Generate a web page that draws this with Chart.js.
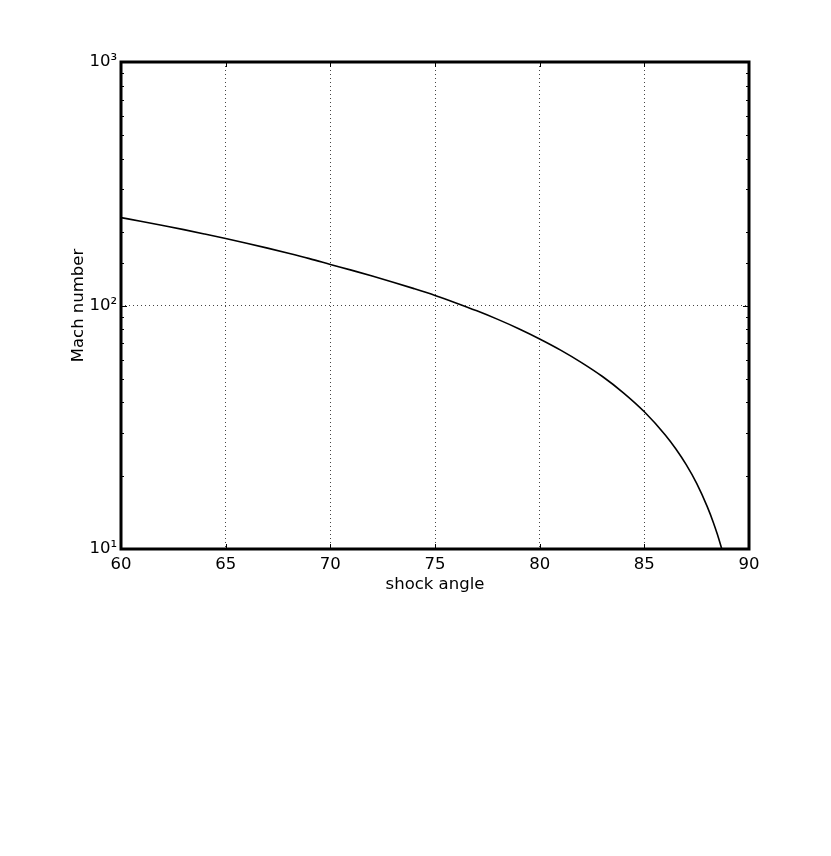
<!DOCTYPE html>
<html>
<head>
<meta charset="utf-8">
<script src="https://cdn.jsdelivr.net/npm/chart.js@4.4.1/dist/chart.umd.min.js"></script>
<style>
html,body{margin:0;padding:0;background:#fff;}
#wrap{width:831px;height:856px;}
</style>
</head>
<body>
<div id="wrap"><canvas id="c" width="831" height="856"></canvas></div>
<script>
// Data
const shockAngle = [60, 61, 62, 63, 64, 65, 66, 67, 68, 69, 70, 71, 72, 73, 74, 75, 76, 77, 78, 79, 80,
                    81, 82, 83, 84, 85, 86, 86.5, 87, 87.5, 88, 88.3, 88.5, 88.7];
const machNumber = [229.6, 221.3, 213.0, 204.9, 196.6, 188.4, 180.2, 172.0, 163.9, 155.8, 147.5, 139.7,
                    132.2, 124.7, 117.3, 110.0, 102.5, 95.1, 87.7, 80.3, 72.9, 65.6, 58.3, 51.1, 43.8,
                    36.6, 29.4, 25.8, 22.2, 18.6, 14.96, 12.83, 11.41, 10.0];
const xTicks = [60, 65, 70, 75, 80, 85, 90];
const yTickLabels = {10: '10\u00B9', 100: '10\u00B2', 1000: '10\u00B3'};

const FONT = "'DejaVu Sans', 'Bitstream Vera Sans', sans-serif";
const FSIZE = 16.5;

const points = shockAngle.map((x, i) => ({x: x, y: machNumber[i]}));

const framePlugin = {
  id: 'frame',
  afterDraw(chart) {
    const {ctx, chartArea: a, scales} = chart;
    ctx.save();
    ctx.strokeStyle = '#000';
    ctx.lineWidth = 1;
    scales.y.ticks.forEach(t => {
      const p = Math.round(scales.y.getPixelForValue(t.value)) + 0.5;
      const isMajor = yTickLabels[t.value] !== undefined;
      const len = isMajor ? 6 : 3;
      ctx.beginPath();
      ctx.moveTo(a.left, p); ctx.lineTo(a.left + len, p);
      ctx.moveTo(a.right, p); ctx.lineTo(a.right - len, p);
      ctx.stroke();
    });
    scales.x.ticks.forEach(t => {
      const p = Math.round(scales.x.getPixelForValue(t.value)) + 0.5;
      ctx.beginPath();
      ctx.moveTo(p, a.bottom); ctx.lineTo(p, a.bottom - 5);
      ctx.moveTo(p, a.top); ctx.lineTo(p, a.top + 5);
      ctx.stroke();
    });
    ctx.lineWidth = 3;
    ctx.strokeRect(a.left, a.top, a.right - a.left, a.bottom - a.top);
    ctx.restore();
  }
};

new Chart(document.getElementById('c'), {
  type: 'scatter',
  data: {
    datasets: [{
      data: points,
      showLine: true,
      borderColor: '#000',
      borderWidth: 1.6,
      pointRadius: 0,
      cubicInterpolationMode: 'monotone',
      fill: false
    }]
  },
  options: {
    responsive: false,
    animation: false,
    devicePixelRatio: 1,
    layout: {padding: {left: 0, top: 62, right: 82, bottom: 256}},
    plugins: {legend: {display: false}, tooltip: {enabled: false}},
    scales: {
      x: {
        type: 'linear',
        min: 60, max: 90,
        afterBuildTicks(scale) { scale.ticks = xTicks.map(v => ({value: v})); },
        afterFit(scale) { scale.height = 51; },
        ticks: {
          color: '#000',
          font: {family: FONT, size: FSIZE},
          padding: 6,
          maxRotation: 0,
          autoSkip: false
        },
        grid: {
          color: '#444',
          lineWidth: 1,
          drawTicks: false
        },
        border: {display: false, dash: [1, 3]},
        title: {
          display: true,
          text: 'shock angle',
          color: '#000',
          font: {family: FONT, size: FSIZE},
          padding: {top: 6, bottom: 5}
        }
      },
      y: {
        type: 'logarithmic',
        min: 10, max: 1000,
        afterFit(scale) { scale.width = 121; },
        ticks: {
          color: '#000',
          font: {family: FONT, size: FSIZE},
          padding: 4,
          autoSkip: false,
          callback: (v) => yTickLabels[v] || ''
        },
        grid: {
          color: (c) => (c.tick && yTickLabels[c.tick.value] !== undefined) ? '#444' : 'rgba(0,0,0,0)',
          lineWidth: 1,
          drawTicks: false
        },
        border: {display: false, dash: [1, 3]},
        title: {
          display: true,
          text: 'Mach number',
          color: '#000',
          font: {family: FONT, size: FSIZE},
          padding: {top: 69, bottom: 4}
        }
      }
    }
  },
  plugins: [framePlugin]
});
</script>
</body>
</html>
